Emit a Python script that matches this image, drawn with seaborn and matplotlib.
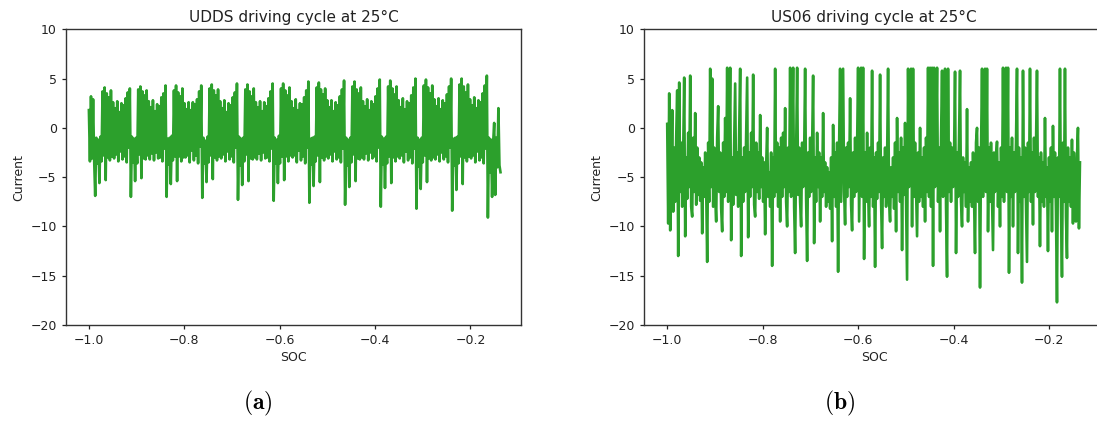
import numpy as np
import matplotlib
matplotlib.use("Agg")
import matplotlib.pyplot as plt
import seaborn as sns

# SOC range of both recordings
soc_start = -1.0
soc_end_udds = -0.137
soc_end_us06 = -0.135

# UDDS current (start, 11 cycles, tail)
udds_current = [
    1.8, -3.4, 3.2, -3.1, 2.9, -3.2,
    -6.9, -1.0, -3.6, -1.2, -5.6, -0.9, -3.4, 3.7, -2.8, 4.1, -5.3, 3.5, -3.0, 3.1, -3.3, 3.8, -2.9,
    2.6, -3.1, 2.0, -2.7, 2.7, -3.4, 1.6, -2.4, 2.5, -3.2, 2.3, -2.9, 3.0, -3.5, 3.6, -2.0, 4.0,
    -7.0, -0.9, -3.5, -1.1, -5.4, -1.0, -3.6, 3.9, -2.7, 4.2, -5.1, 3.7, -3.1, 3.3, -3.2, 3.8, -2.8,
    2.7, -3.2, 2.1, -2.6, 2.8, -3.3, 1.7, -2.5, 2.4, -3.1, 2.2, -3.0, 3.1, -3.4, 3.5, -2.1, 4.3,
    -7.0, -1.1, -3.7, -1.0, -5.7, -0.8, -3.3, 3.8, -2.9, 4.3, -5.4, 3.6, -2.9, 3.2, -3.4, 4.0, -3.0,
    2.5, -3.0, 1.9, -2.8, 2.6, -3.5, 1.8, -2.3, 2.6, -3.3, 2.4, -2.8, 2.9, -3.6, 3.7, -1.9, 4.3,
    -7.1, -1.0, -3.6, -1.3, -5.5, -0.9, -3.5, 4.0, -2.8, 4.4, -5.2, 3.8, -3.0, 3.3, -3.3, 3.9, -2.9,
    2.7, -3.1, 2.0, -2.7, 2.8, -3.4, 1.6, -2.4, 2.5, -3.2, 2.3, -2.9, 3.1, -3.5, 3.6, -2.0, 4.5,
    -7.3, -0.9, -3.8, -1.1, -5.8, -1.0, -3.4, 3.9, -2.7, 4.4, -5.4, 3.7, -3.1, 3.2, -3.2, 4.0, -3.0,
    2.6, -3.2, 2.1, -2.6, 2.7, -3.3, 1.7, -2.5, 2.6, -3.1, 2.2, -3.0, 3.0, -3.4, 3.7, -2.1, 4.5,
    -7.4, -1.0, -3.6, -1.2, -5.6, -0.8, -3.6, 4.0, -2.9, 4.5, -5.3, 3.8, -2.9, 3.3, -3.4, 4.1, -2.8,
    2.7, -3.0, 2.0, -2.8, 2.9, -3.5, 1.8, -2.3, 2.5, -3.3, 2.4, -2.9, 3.1, -3.6, 3.8, -2.0, 4.7,
    -7.6, -1.1, -3.7, -1.0, -5.9, -0.9, -3.4, 4.1, -2.8, 4.6, -5.5, 3.9, -3.0, 3.4, -3.3, 4.0, -2.9,
    2.8, -3.1, 2.1, -2.7, 2.8, -3.4, 1.7, -2.4, 2.6, -3.2, 2.3, -3.0, 3.2, -3.5, 3.9, -2.1, 4.8,
    -7.8, -1.0, -3.8, -1.2, -6.0, -1.0, -3.5, 4.2, -2.7, 4.7, -5.4, 3.9, -3.1, 3.5, -3.2, 4.1, -3.0,
    2.7, -3.2, 2.2, -2.6, 2.9, -3.3, 1.8, -2.5, 2.7, -3.1, 2.4, -2.9, 3.2, -3.4, 4.0, -2.0, 4.9,
    -8.0, -0.9, -3.7, -1.1, -6.1, -0.9, -3.6, 4.2, -2.9, 4.8, -5.6, 4.0, -3.0, 3.4, -3.4, 4.2, -2.9,
    2.8, -3.1, 2.1, -2.8, 3.0, -3.5, 1.9, -2.4, 2.7, -3.3, 2.5, -3.0, 3.3, -3.6, 4.1, -2.1, 5.0,
    -8.2, -1.0, -3.9, -1.2, -6.2, -1.0, -3.5, 4.3, -2.8, 4.9, -5.5, 4.1, -3.1, 3.5, -3.3, 4.3, -3.0,
    2.9, -3.2, 2.2, -2.7, 3.0, -3.4, 1.9, -2.5, 2.8, -3.2, 2.5, -2.9, 3.4, -3.5, 4.2, -2.0, 5.0,
    -8.4, -1.1, -3.8, -1.0, -6.3, -0.9, -3.6, 4.4, -2.9, 5.0, -5.7, 4.2, -3.0, 3.6, -3.4, 4.4, -2.9,
    2.9, -3.1, 2.3, -2.8, 3.1, -3.5, 2.0, -2.4, 2.8, -3.3, 2.6, -3.0, 3.5, -3.6, 4.3, -2.1, 5.3,
    -9.1, -1.0, -4.5, -1.2, -7.0, -1.5, 0.5, -6.8, -1.0, -4.0, 2.0, -3.8, -4.5,
]

# US06 current
us06_current = [
    0.4, -9.7, 3.5, -10.4, -5.0, 1.8, -8.5, -2.0, -7.5, -1.0, 3.8, -13.0, 4.6, -6.5, -1.5, -8.0, -2.5, 5.1, -11.0, -3.0,
    -7.2, -0.5, -6.0, 5.3, -8.0, -9.0, -1.0, -6.5, 1.5, -7.8, -2.0, -6.8, -3.0, -7.4, -3.5, -10.7, -4.0, -7.0, -2.5, -6.2,
    -13.6, -1.5, -7.5, 6.0, -6.0, 5.0, -8.0, -2.0, -7.0, -9.5, -1.0, 2.2, -6.5, -2.5, -8.2, -10.5, -1.5, -7.0, 1.0, -6.5,
    6.1, -7.5, -2.0, 6.1, -11.4, -3.0, -7.8, -1.5, 4.5, -6.8, -2.5, -8.0, -0.5, 6.0, -13.0, -3.0, -7.5, -2.0, -6.5, -1.0,
    5.1, -11.1, -2.5, -7.0, -0.5, -6.0, 5.4, -7.8, -9.0, -1.5, -6.5, -2.5, -7.2, 1.3, -6.0, -3.0, -7.5, -3.5, -10.8, -4.0,
    0.0, -7.0, -4.5, -8.0, -2.5, -14.0, -3.0, -7.0, 6.0, -6.5, -1.5, -8.0, -2.0, -9.5, -1.0, -7.0, -0.5, -6.0, 2.0, -7.5,
    -10.0, -2.0, -6.5, 6.1, -7.0, -1.5, 6.1, -8.0, -12.7, -2.5, 6.1, -6.8, -2.0, -7.5, -10.0, -1.5, -6.0, -3.0, 6.0, -7.2,
    -13.5, -2.5, -7.0, -1.0, -6.5, -2.0, 5.3, -11.7, -3.0, -7.5, -0.5, -6.0, -2.5, -9.5, -3.0, -7.0, 1.5, -6.5, -3.5, -8.0,
    -4.0, -7.5, -4.5, -8.2, -3.0, -11.5, 0.3, -7.0, -2.5, -8.0, -1.5, -14.6, -2.0, 6.0, -7.5, -1.0, 6.0, -6.5, -9.8, -2.0,
    -7.0, -1.5, -6.0, 3.0, -7.8, -10.4, -2.5, -7.0, -1.0, -6.5, -2.0, 6.1, -9.5, -1.5, 6.1, -7.0, 6.1, -13.3, -2.5, -7.5,
    -0.5, -6.5, -10.0, -2.0, -7.0, 5.8, -8.0, -3.0, -14.1, -2.5, -7.2, -1.5, -6.5, 5.4, -7.5, -12.2, -3.0, -7.0, -2.0, -8.0,
    -3.5, 6.0, -7.5, -9.5, -4.0, -7.0, -3.0, -8.2, -1.5, -10.5, 1.0, -6.5, -2.5, -7.5, -1.0, -12.4, -2.0, -6.8, 0.5, -7.5,
    -15.4, 6.0, -6.0, -2.0, 6.0, -10.0, 6.0, -7.0, -1.5, -6.5, -11.0, -2.5, -7.5, 0.0, -7.0, -3.0, -8.0, -2.0, -9.5, -1.0,
    -6.5, 6.1, -7.0, 6.1, -8.0, 6.1, -14.0, 6.1, -6.0, -1.5, 6.1, -7.5, -2.0, -10.5, -1.0, 5.8, -7.0, -2.5, 6.0, -8.0,
    -15.1, 6.0, -6.5, -1.5, -7.5, -2.0, -6.0, -3.0, 5.7, -12.7, -2.5, -7.0, -1.0, 5.8, -7.5, -10.0, -3.0, -6.5, -3.5, -8.0,
    1.9, -9.5, -4.0, -7.5, -3.5, -8.0, -2.5, -7.0, -12.7, -1.5, 0.0, -7.5, -2.0, -16.2, -2.5, 6.0, -7.0, -1.0, 6.0, -6.5,
    6.0, -10.5, -2.0, -7.5, -1.5, -7.0, -12.4, -2.5, -6.5, -3.0, -1.4, -8.0, -3.5, -10.0, -2.0, -7.0, 6.1, -7.5, -1.5, 6.1,
    -6.5, 6.1, -14.7, -2.0, -7.0, -1.0, -10.0, -2.5, -6.5, -1.5, 6.0, -12.7, -2.0, -7.5, -3.0, -15.7, 5.8, -7.0, -2.0, -8.0,
    -13.6, -1.5, -6.5, 6.0, -7.5, -2.5, -9.8, -1.0, -6.5, -2.0, 5.8, -7.0, -3.0, -12.0, -2.5, -7.5, -3.5, -8.0, 1.0, -7.0,
    -4.0, -12.5, -3.0, -7.5, -2.0, -10.5, 0.2, -7.0, -2.5, -8.5, -17.7, -3.0, -7.0, 6.0, -8.0, -15.1, -1.5, -7.5, 6.0, -9.0,
    -13.2, -2.0, -7.5, -3.0, -8.0, -1.2, -9.7, -2.5, -7.0, -9.5, -3.0, 0.0, -10.2, -3.5,
]

titles = ["UDDS driving cycle at 25°C", "US06 driving cycle at 25°C"]
captions = [r"$\mathbf{(a)}$", r"$\mathbf{(b)}$"]

plt.rcParams["mathtext.fontset"] = "cm"
plt.rcParams["font.family"] = ["DejaVu Sans"]

fig = plt.figure(figsize=(10.97, 4.21), dpi=100)
ax1 = fig.add_axes([66 / 1097, 96 / 421, 455 / 1097, 295.7 / 421])
# right panel runs past the edge of the picture, like the cropped original
ax2 = fig.add_axes([644.3 / 1097, 96 / 421, 460 / 1097, 295.7 / 421])

series = [
    (ax1, np.linspace(soc_start, soc_end_udds, len(udds_current)), udds_current, -0.094),
    (ax2, np.linspace(soc_start, soc_end_us06, len(us06_current)), us06_current, -0.084),
]

for i, (ax, soc, cur, xr) in enumerate(series):
    sns.lineplot(x=soc, y=cur, ax=ax, color="#2ca02c", linewidth=1.9,
                 estimator=None, sort=False)
    ax.set_xlim(-1.048, xr)
    ax.set_ylim(-20, 10)
    ax.set_yticks([-20, -15, -10, -5, 0, 5, 10])
    ax.set_xticks([-1.0, -0.8, -0.6, -0.4, -0.2])
    ax.tick_params(labelsize=9, length=3.2, width=0.9, colors="#222222")
    for sp in ax.spines.values():
        sp.set_linewidth(1.0)
        sp.set_color("#333333")
    ax.set_xlabel("SOC", fontsize=9, labelpad=3, color="#222222")
    ax.set_ylabel("Current", fontsize=9, color="#222222")
    ax.set_title(titles[i], fontsize=11, pad=5, color="#222222")

ax2.spines["right"].set_visible(False)

fig.text(258 / 1097, 1 - 403 / 421, captions[0], fontsize=17, ha="center", va="center")
fig.text(840 / 1097, 1 - 403 / 421, captions[1], fontsize=17, ha="center", va="center")

fig.savefig("out.png", dpi=100)
